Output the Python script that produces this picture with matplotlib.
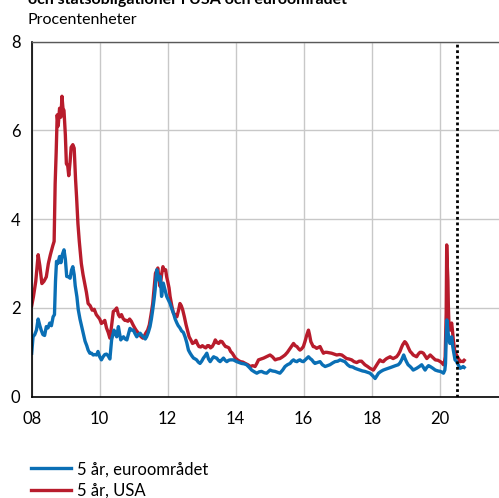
import matplotlib.pyplot as plt

plt.rcParams['font.family'] = ['Lato', 'DejaVu Sans']

# 5-year government bond yields, percent
usa_t = [2008.00, 2008.05, 2008.12, 2008.19, 2008.24, 2008.30, 2008.36, 2008.43, 2008.49, 2008.55,
         2008.62, 2008.66, 2008.69, 2008.72, 2008.75, 2008.78, 2008.82, 2008.86, 2008.89, 2008.92,
         2008.95, 2008.99, 2009.02, 2009.06, 2009.09, 2009.13, 2009.16, 2009.21, 2009.25, 2009.29,
         2009.32, 2009.36, 2009.40, 2009.46, 2009.51, 2009.56, 2009.61, 2009.66, 2009.72, 2009.78,
         2009.84, 2009.90, 2009.95, 2010.00, 2010.05, 2010.10, 2010.15, 2010.20, 2010.25, 2010.30,
         2010.35, 2010.40, 2010.45, 2010.50, 2010.55, 2010.59, 2010.64, 2010.69, 2010.74, 2010.78,
         2010.83, 2010.88, 2010.93, 2010.98, 2011.03, 2011.07, 2011.12, 2011.17, 2011.22, 2011.27,
         2011.32, 2011.36, 2011.41, 2011.46, 2011.51, 2011.56, 2011.60, 2011.64, 2011.68, 2011.71,
         2011.75, 2011.78, 2011.82, 2011.86, 2011.90, 2011.94, 2011.97, 2012.00, 2012.04, 2012.07,
         2012.12, 2012.17, 2012.22, 2012.27, 2012.32, 2012.36, 2012.40, 2012.44, 2012.49, 2012.54,
         2012.58, 2012.63, 2012.68, 2012.73, 2012.78, 2012.83, 2012.88, 2012.92, 2012.97, 2013.02,
         2013.07, 2013.12, 2013.17, 2013.21, 2013.26, 2013.31, 2013.36, 2013.40, 2013.45, 2013.50,
         2013.55, 2013.60, 2013.65, 2013.70, 2013.75, 2013.80, 2013.85, 2013.90, 2013.95, 2013.99,
         2014.07, 2014.14, 2014.21, 2014.28, 2014.36, 2014.43, 2014.50, 2014.57, 2014.62, 2014.67,
         2014.75, 2014.82, 2014.90, 2015.01, 2015.08, 2015.16, 2015.23, 2015.30, 2015.38, 2015.45,
         2015.52, 2015.60, 2015.65, 2015.70, 2015.75, 2015.80, 2015.85, 2015.89, 2015.94, 2015.99,
         2016.04, 2016.09, 2016.14, 2016.17, 2016.21, 2016.28, 2016.33, 2016.38, 2016.43, 2016.48,
         2016.53, 2016.58, 2016.63, 2016.68, 2016.75, 2016.82, 2016.90, 2016.97, 2017.05, 2017.12,
         2017.19, 2017.26, 2017.33, 2017.41, 2017.48, 2017.56, 2017.63, 2017.70, 2017.80, 2017.88,
         2017.95, 2018.05, 2018.10, 2018.15, 2018.20, 2018.24, 2018.29, 2018.34, 2018.39, 2018.44,
         2018.49, 2018.54, 2018.58, 2018.63, 2018.68, 2018.73, 2018.78, 2018.83, 2018.87, 2018.91,
         2018.97, 2019.00, 2019.04, 2019.08, 2019.13, 2019.18, 2019.22, 2019.27, 2019.32, 2019.37,
         2019.42, 2019.47, 2019.52, 2019.57, 2019.62, 2019.67, 2019.72, 2019.80, 2019.87, 2019.95,
         2020.02, 2020.07, 2020.11, 2020.14, 2020.16, 2020.18, 2020.19, 2020.205, 2020.22, 2020.24,
         2020.255, 2020.27, 2020.30, 2020.33, 2020.35, 2020.38, 2020.40, 2020.43, 2020.45, 2020.49,
         2020.52, 2020.56, 2020.60, 2020.65, 2020.69, 2020.72]
usa_y = [2.05, 2.25, 2.6, 3.2, 2.95, 2.55, 2.6, 2.7, 3.0, 3.2,
         3.4, 3.5, 4.8, 5.5, 6.35, 6.1, 6.5, 6.3, 6.77, 6.5,
         6.45, 5.9, 5.25, 5.2, 4.98, 5.3, 5.62, 5.68, 5.6, 4.9,
         4.5, 3.9, 3.5, 3.0, 2.75, 2.55, 2.35, 2.1, 2.05, 1.95,
         1.97, 1.85, 1.8, 1.75, 1.65, 1.68, 1.72, 1.55, 1.45, 1.32,
         1.6, 1.92, 1.95, 2.0, 1.85, 1.8, 1.85, 1.76, 1.72, 1.72,
         1.7, 1.75, 1.7, 1.62, 1.55, 1.5, 1.45, 1.4, 1.35, 1.32,
         1.38, 1.44, 1.5, 1.62, 1.85, 2.1, 2.45, 2.78, 2.85, 2.9,
         2.6, 2.48, 2.75, 2.93, 2.85, 2.86, 2.7, 2.6, 2.45, 2.26,
         2.05, 1.88, 1.85, 1.8, 1.95, 2.1, 2.05, 1.96, 1.8, 1.62,
         1.5, 1.35, 1.28, 1.2, 1.22, 1.27, 1.18, 1.13, 1.12, 1.15,
         1.12, 1.1, 1.15, 1.15, 1.1, 1.13, 1.2, 1.28, 1.22, 1.2,
         1.25, 1.24, 1.18, 1.13, 1.12, 1.1, 1.02, 0.98, 0.92, 0.87,
         0.82, 0.79, 0.78, 0.75, 0.72, 0.68, 0.7, 0.68, 0.75, 0.83,
         0.85, 0.87, 0.9, 0.94, 0.9, 0.83, 0.85, 0.86, 0.9, 0.94,
         1.0, 1.09, 1.15, 1.2, 1.15, 1.13, 1.08, 1.05, 1.08, 1.13,
         1.25, 1.39, 1.5, 1.4, 1.24, 1.13, 1.12, 1.09, 1.11, 1.13,
         1.05, 0.98, 1.0, 1.0, 0.99, 0.98, 0.96, 0.94, 0.95, 0.94,
         0.9, 0.86, 0.85, 0.83, 0.79, 0.77, 0.8, 0.8, 0.72, 0.68,
         0.64, 0.6, 0.66, 0.72, 0.78, 0.83, 0.8, 0.79, 0.83, 0.86,
         0.88, 0.9, 0.88, 0.86, 0.88, 0.9, 0.95, 1.02, 1.1, 1.17,
         1.24, 1.22, 1.17, 1.1, 1.02, 0.98, 0.94, 0.92, 0.9, 0.96,
         1.0, 1.0, 0.98, 0.92, 0.86, 0.9, 0.94, 0.88, 0.83, 0.82,
         0.79, 0.76, 0.72, 0.78, 0.9, 1.5, 1.88, 3.42, 3.0, 2.63,
         2.0, 1.66, 1.5, 1.6, 1.66, 1.45, 1.28, 1.1, 0.98, 0.95,
         0.9, 0.85, 0.79, 0.8, 0.79, 0.82]

euro_t = [2008.00, 2008.04, 2008.09, 2008.14, 2008.19, 2008.24, 2008.28, 2008.33, 2008.38, 2008.43,
          2008.48, 2008.53, 2008.58, 2008.63, 2008.67, 2008.70, 2008.73, 2008.77, 2008.82, 2008.86,
          2008.90, 2008.95, 2008.99, 2009.03, 2009.08, 2009.13, 2009.17, 2009.21, 2009.25, 2009.28,
          2009.33, 2009.37, 2009.42, 2009.47, 2009.52, 2009.57, 2009.62, 2009.66, 2009.71, 2009.76,
          2009.81, 2009.86, 2009.91, 2009.95, 2010.00, 2010.05, 2010.10, 2010.15, 2010.20, 2010.25,
          2010.30, 2010.35, 2010.42, 2010.46, 2010.50, 2010.55, 2010.59, 2010.62, 2010.66, 2010.70,
          2010.75, 2010.80, 2010.85, 2010.89, 2010.94, 2010.99, 2011.04, 2011.09, 2011.14, 2011.19,
          2011.24, 2011.29, 2011.34, 2011.38, 2011.43, 2011.48, 2011.52, 2011.56, 2011.60, 2011.63,
          2011.66, 2011.68, 2011.71, 2011.74, 2011.78, 2011.82, 2011.85, 2011.87, 2011.92, 2011.97,
          2012.02, 2012.07, 2012.12, 2012.17, 2012.22, 2012.27, 2012.31, 2012.36, 2012.41, 2012.46,
          2012.51, 2012.56, 2012.61, 2012.66, 2012.71, 2012.76, 2012.81, 2012.85, 2012.90, 2012.95,
          2013.00, 2013.05, 2013.10, 2013.15, 2013.20, 2013.25, 2013.30, 2013.35, 2013.40, 2013.44,
          2013.49, 2013.54, 2013.59, 2013.64, 2013.69, 2013.74, 2013.79, 2013.84, 2013.93, 2014.03,
          2014.10, 2014.17, 2014.25, 2014.32, 2014.40, 2014.47, 2014.55, 2014.62, 2014.69, 2014.76,
          2014.84, 2014.91, 2015.01, 2015.08, 2015.16, 2015.23, 2015.30, 2015.38, 2015.45, 2015.52,
          2015.60, 2015.65, 2015.70, 2015.75, 2015.80, 2015.85, 2015.89, 2015.94, 2015.99, 2016.07,
          2016.14, 2016.19, 2016.24, 2016.29, 2016.33, 2016.40, 2016.48, 2016.55, 2016.63, 2016.70,
          2016.77, 2016.85, 2016.92, 2017.00, 2017.07, 2017.14, 2017.21, 2017.29, 2017.36, 2017.44,
          2017.51, 2017.58, 2017.66, 2017.73, 2017.80, 2017.88, 2017.95, 2018.03, 2018.10, 2018.15,
          2018.20, 2018.27, 2018.34, 2018.41, 2018.49, 2018.56, 2018.63, 2018.70, 2018.78, 2018.83,
          2018.88, 2018.94, 2018.98, 2019.02, 2019.07, 2019.13, 2019.18, 2019.22, 2019.27, 2019.32,
          2019.40, 2019.47, 2019.52, 2019.57, 2019.62, 2019.67, 2019.72, 2019.80, 2019.87, 2019.95,
          2020.02, 2020.07, 2020.11, 2020.15, 2020.17, 2020.19, 2020.21, 2020.225, 2020.24, 2020.27,
          2020.30, 2020.33, 2020.35, 2020.38, 2020.40, 2020.43, 2020.45, 2020.49, 2020.52, 2020.56,
          2020.60, 2020.65, 2020.69, 2020.72]
euro_y = [0.98, 1.35, 1.4, 1.5, 1.75, 1.6, 1.5, 1.4, 1.38, 1.58,
          1.55, 1.66, 1.6, 1.8, 1.85, 2.6, 3.05, 3.0, 3.16, 3.02,
          3.2, 3.31, 3.1, 2.71, 2.7, 2.67, 2.85, 2.93, 2.75, 2.5,
          2.25, 1.96, 1.75, 1.58, 1.4, 1.25, 1.15, 1.05, 0.98, 0.98,
          0.94, 0.95, 0.94, 1.02, 0.9, 0.83, 0.9, 0.95, 0.96, 0.92,
          0.85, 1.28, 1.5, 1.42, 1.35, 1.58, 1.4, 1.28, 1.32, 1.35,
          1.3, 1.28, 1.42, 1.54, 1.5, 1.5, 1.42, 1.35, 1.4, 1.43,
          1.38, 1.35, 1.3, 1.35, 1.45, 1.58, 1.75, 1.96, 2.2, 2.41,
          2.7, 2.86, 2.75, 2.63, 2.71, 2.26, 2.45, 2.56, 2.41, 2.26,
          2.18, 2.1, 1.98, 1.88, 1.75, 1.66, 1.6, 1.55, 1.48, 1.45,
          1.35, 1.22, 1.05, 0.98, 0.92, 0.87, 0.85, 0.83, 0.78, 0.75,
          0.8, 0.87, 0.92, 0.98, 0.85, 0.79, 0.85, 0.9, 0.88, 0.87,
          0.82, 0.79, 0.83, 0.87, 0.82, 0.79, 0.82, 0.83, 0.83, 0.79,
          0.77, 0.75, 0.74, 0.72, 0.66, 0.6, 0.56, 0.53, 0.56, 0.57,
          0.54, 0.53, 0.6, 0.58, 0.57, 0.55, 0.53, 0.6, 0.68, 0.72,
          0.75, 0.8, 0.83, 0.8, 0.79, 0.82, 0.83, 0.8, 0.79, 0.85,
          0.9, 0.86, 0.83, 0.78, 0.75, 0.77, 0.79, 0.72, 0.68, 0.7,
          0.72, 0.76, 0.79, 0.8, 0.83, 0.81, 0.79, 0.72, 0.68, 0.67,
          0.64, 0.62, 0.6, 0.58, 0.57, 0.55, 0.53, 0.47, 0.41, 0.47,
          0.53, 0.57, 0.6, 0.62, 0.64, 0.66, 0.68, 0.7, 0.72, 0.76,
          0.83, 0.94, 0.86, 0.79, 0.72, 0.68, 0.64, 0.6, 0.62, 0.64,
          0.68, 0.72, 0.66, 0.6, 0.66, 0.7, 0.68, 0.64, 0.6, 0.58,
          0.57, 0.55, 0.53, 0.6, 0.75, 1.3, 1.73, 1.6, 1.5, 1.28,
          1.2, 1.3, 1.35, 1.15, 1.05, 0.92, 0.83, 0.8, 0.75, 0.7,
          0.64, 0.66, 0.68, 0.66]

xticks = [2008, 2010, 2012, 2014, 2016, 2018, 2020]
xtick_labels = ['08', '10', '12', '14', '16', '18', '20']
yticks = [0, 2, 4, 6, 8]
forecast_start = 2020.5

blue = '#0a6fb5'
red = '#b81c2c'

fig = plt.figure(figsize=(4.99, 4.98), dpi=100)
ax = fig.add_axes([0.0635, 0.2034, 0.954, 0.7129])

red_line, = ax.plot(usa_t, usa_y, color=red, lw=2.4, label='5 år, USA')
blue_line, = ax.plot(euro_t, euro_y, color=blue, lw=2.4, label='5 år, euroområdet')
ax.axvline(forecast_start, color='black', lw=2.0, linestyle=(0, (1, 1)))

ax.set_xlim(2008, 2022)
ax.set_ylim(0, 8)
ax.set_xticks(xticks)
ax.set_xticklabels(xtick_labels)
ax.set_yticks(yticks)
ax.tick_params(length=0, labelsize=12)
ax.tick_params(axis='x', pad=10)
ax.tick_params(axis='y', pad=8)
ax.grid(True, color='#c8c8c8', lw=1.0)
ax.set_axisbelow(True)

ax.spines['left'].set_color('black')
ax.spines['bottom'].set_color('black')
ax.spines['left'].set_linewidth(1.2)
ax.spines['bottom'].set_linewidth(1.2)
ax.spines['top'].set_color('#595959')
ax.spines['top'].set_linewidth(1.0)

fig.text(0.056, 1 - 4 / 498, 'och statsobligationer i USA och euroområdet',
         fontsize=11.5, fontweight='bold', va='baseline')
fig.text(0.056, 1 - 24 / 498, 'Procentenheter', fontsize=11.5, va='baseline')

fig.legend(handles=[blue_line, red_line], loc='upper left',
           bbox_to_anchor=(0.062, 0.074), frameon=False, fontsize=12,
           handlelength=2.4, handletextpad=0.35, labelspacing=0.35,
           borderpad=0, borderaxespad=0)

fig.savefig('out.png', dpi=100)
